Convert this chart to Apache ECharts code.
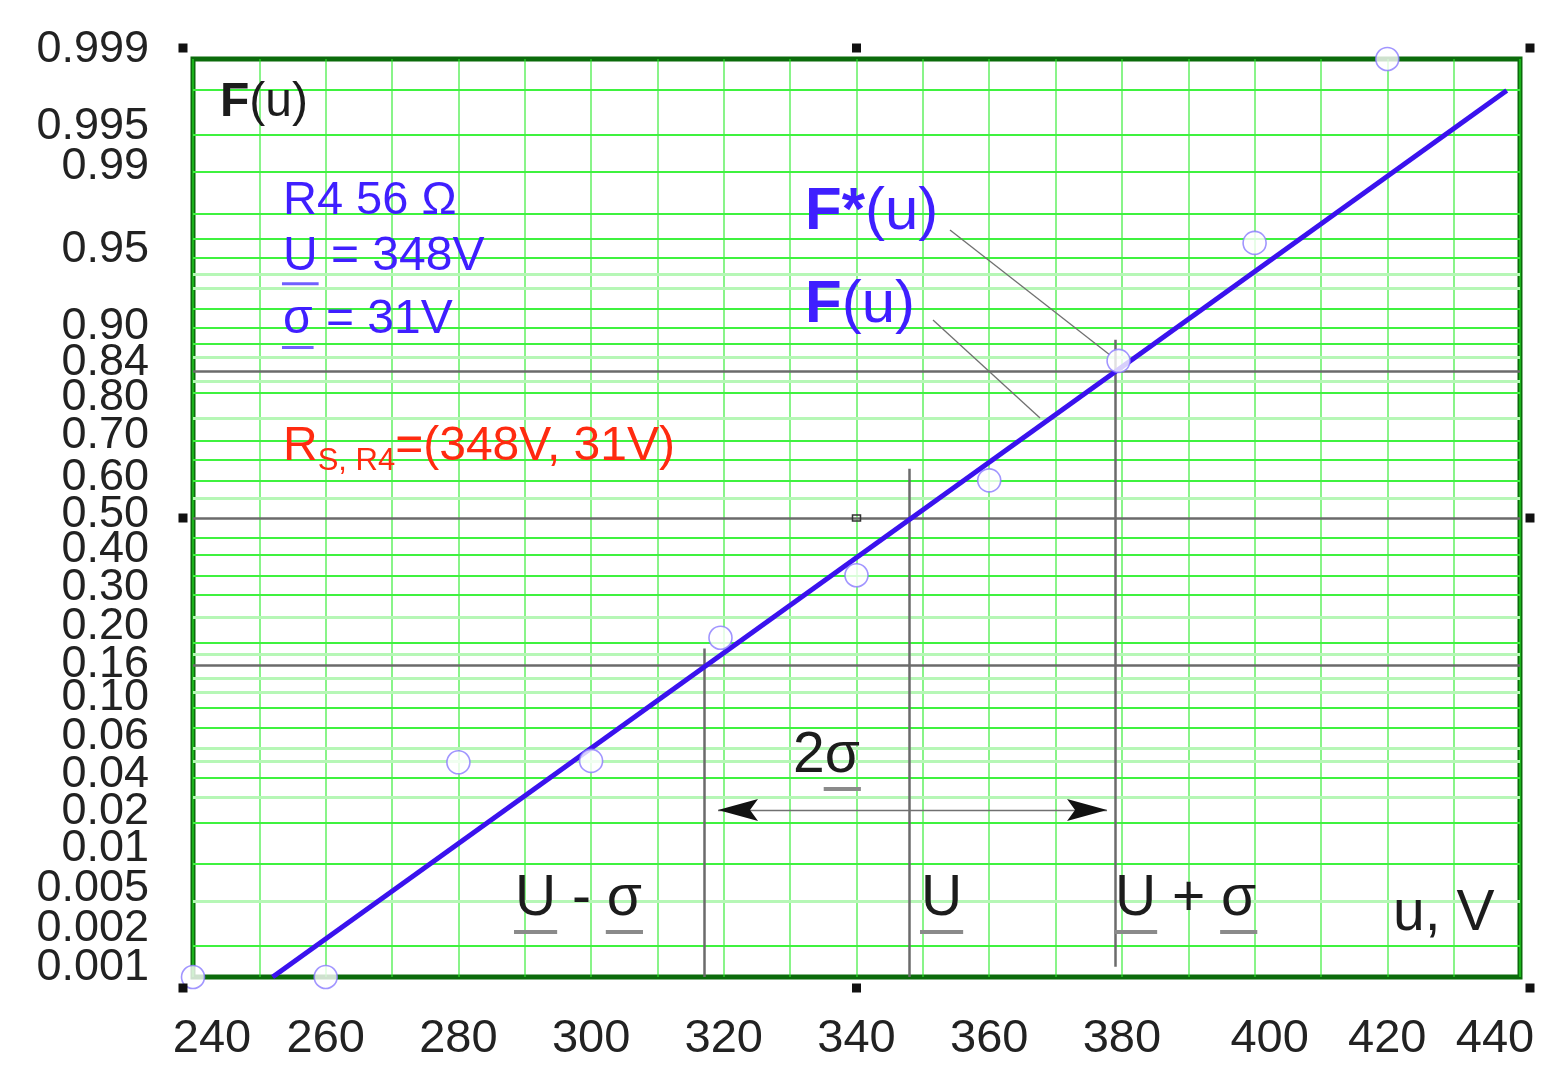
<!DOCTYPE html>
<html><head><meta charset="utf-8">
<script src="https://cdn.jsdelivr.net/npm/echarts@6/dist/echarts.min.js"></script>
<style>html,body{margin:0;padding:0;background:#fff}#c{width:1561px;height:1075px}</style>
</head><body><div id="c"></div>
<script>
// ---------- data ----------
const uValues = [240, 260, 280, 300, 319.5, 340, 360, 379.5, 400, 420];      // u, V
const fStar   = [0.001, 0.001, 0.050, 0.051, 0.21, 0.35, 0.60, 0.855, 0.968, 0.999]; // F*(u)
const fitU = [252, 438];
const fitF = [0.001, 0.998];                 // F(u) fitted normal line
const U_MEAN = 348, SIGMA = 31;
const xTickLabels = [240, 260, 280, 300, 320, 340, 360, 380, 400, 420, 440];
const yTickLabels = ['0.999','0.995','0.99','0.95','0.90','0.84','0.80','0.70','0.60','0.50','0.40','0.30','0.20','0.16','0.10','0.06','0.04','0.02','0.01','0.005','0.002','0.001'];
const gridMajorP = [0.998,0.995,0.99,0.98,0.97,0.96,0.92,0.90,0.88,0.80,0.70,0.65,0.60,0.45,0.40,0.35,0.30,0.20,0.10,0.08,0.04,0.02,0.01,0.002];
const gridMinorP = [0.95,0.94,0.86,0.82,0.75,0.55,0.25,0.18,0.14,0.12,0.06,0.05,0.03,0.005];
const refP = [0.84, 0.50, 0.16];

// ---------- probability (probit) scale ----------
function probit(p){
  const a=[-3.969683028665376e+01,2.209460984245205e+02,-2.759285104469687e+02,1.383577518672690e+02,-3.066479806614716e+01,2.506628277459239e+00];
  const b=[-5.447609879822406e+01,1.615858368580409e+02,-1.556989798598866e+02,6.680131188771972e+01,-1.328068155288572e+01];
  const c=[-7.784894002430293e-03,-3.223964580411365e-01,-2.400758277161838e+00,-2.549732539343734e+00,4.374664141464968e+00,2.938163982698783e+00];
  const d=[7.784695709041462e-03,3.224671290700398e-01,2.445134137142996e+00,3.754408661907416e+00];
  const pl=0.02425; let q,r;
  if(p<pl){q=Math.sqrt(-2*Math.log(p));return (((((c[0]*q+c[1])*q+c[2])*q+c[3])*q+c[4])*q+c[5])/((((d[0]*q+d[1])*q+d[2])*q+d[3])*q+1);}
  if(p>1-pl){q=Math.sqrt(-2*Math.log(1-p));return -(((((c[0]*q+c[1])*q+c[2])*q+c[3])*q+c[4])*q+c[5])/((((d[0]*q+d[1])*q+d[2])*q+d[3])*q+1);}
  q=p-0.5;r=q*q;return (((((a[0]*r+a[1])*r+a[2])*r+a[3])*r+a[4])*r+a[5])*q/(((((b[0]*r+b[1])*r+b[2])*r+b[3])*r+b[4])*r+1);
}
const EPS = 1e-7;
const yMin = probit(0.001) - EPS, yMax = probit(0.999) + EPS;
const xMin = 240, xMax = 440;
const yTickZ = yTickLabels.map(s => probit(parseFloat(s)));
// order the custom label values so that the first/last pair never trigger min/max-label overlap hiding
const orderIdx = (function(){
  const n = yTickLabels.length, mid = Math.floor(n/2);
  const rest = [];
  for (let i=1;i<n-1;i++) if (i!==mid) rest.push(i);
  return [n-1, mid].concat(rest.filter(i=>i!==1)).concat([1, 0]).filter((v,k,a)=>a.indexOf(v)===k);
})();
// make sure second-last is far from the last (0.999): put a middle label there
const yCustom = (function(){
  const idx = orderIdx.slice();
  const last = idx.pop();            // 0.999
  const prev = idx.pop();            // 0.995
  idx.splice(2, 0, prev);            // move 0.995 inside
  const far = idx.splice(idx.indexOf(14),1)[0]; // 0.10
  idx.push(far, last);
  return idx.map(i=>yTickZ[i]);
})();

const FONT = 'Liberation Sans';
const BLACK = '#1c1c1c', BLUE = '#3f1fff', RED = '#ff2a10';
const BLUE_UL = '#6f60ff', GRAY_UL = '#8a8a8a';

// label placement nudges (px, negative = up / left) to mimic the hand-set probability paper labels
const yLabelNudge = [-9,-9,-6,-24,-1,-8,5,-5,-3,-3,-6,-8,-16,-1,-11,-12,-3,-11,-15,-12,-17,-9];
const xLabelNudge = {240:19, 400:15, 440:-25};
const Y_FS = 45, X_FS = 47;

const yRich = {};
yTickLabels.forEach((s,i)=>{
  const o = yLabelNudge[i];
  yRich['n'+i] = {fontSize:Y_FS, fontFamily:FONT, color:'#222',
    padding: o<0 ? [0,0,-2*o,0] : [2*o,0,0,0]};
});
const xRich = {};
xTickLabels.forEach(v=>{
  const o = xLabelNudge[v]||0;
  xRich['x'+v] = {fontSize:X_FS, fontFamily:FONT, color:'#222',
    padding: o>0 ? [0,0,0,2*o] : [0,-2*o,0,0]};
});

const chart = echarts.init(document.getElementById('c'), null, {renderer:'canvas'});

const hLines = (ps) => ps.map(p => ({yAxis: probit(p)}));
const seg = (u1,z1,u2,z2) => [{coord:[u1,z1]},{coord:[u2,z2]}];

const option = {
  animation: false,
  backgroundColor: '#ffffff',
  grid: {left:193, right:41, top:59, bottom:98, show:true, borderColor:'#0b6b0b', borderWidth:5,
         backgroundColor:'#ffffff', containLabel:false, outerBoundsMode:'none'},
  xAxis: {
    type:'value', min:xMin, max:xMax, interval:10,
    axisLine:{show:false}, axisTick:{show:false},
    axisLabel:{customValues:xTickLabels, fontSize:X_FS, color:'#222', fontFamily:FONT, margin:39, hideOverlap:false,
      showMinLabel:true, showMaxLabel:true,
      formatter:(v)=>'{x'+Math.round(v)+'|'+Math.round(v)+'}', rich:xRich},
    splitLine:{show:true, lineStyle:{color:'rgba(40,235,40,0.55)', width:2}}
  },
  yAxis: {
    type:'value', min:yMin, max:yMax,
    axisLine:{show:false}, axisTick:{show:false}, splitLine:{show:false},
    axisLabel:{
      customValues:yCustom, fontSize:Y_FS, color:'#222', fontFamily:FONT, margin:44, hideOverlap:false,
      showMinLabel:true, showMaxLabel:true,
      formatter:(v)=>{let bi=0,bd=1e9;yTickZ.forEach((z,i)=>{const dd=Math.abs(z-v);if(dd<bd){bd=dd;bi=i;}});return '{n'+bi+'|'+yTickLabels[bi]+'}';},
      rich:yRich
    }
  },
  series: [
    {name:'grid-minor', type:'line', data:[], silent:true, z:1,
     markLine:{silent:true, symbol:['none','none'], label:{show:false},
       lineStyle:{color:'#b6f7b6', width:3, type:'solid'}, data:hLines(gridMinorP)}},
    {name:'grid-major', type:'line', data:[], silent:true, z:1,
     markLine:{silent:true, symbol:['none','none'], label:{show:false},
       lineStyle:{color:'#3ff23f', width:2, type:'solid'}, data:hLines(gridMajorP)}},
    {name:'reference', type:'line', data:[], silent:true, z:2,
     markLine:{silent:true, symbol:['none','none'], label:{show:false},
       lineStyle:{color:'#6b6b6b', width:2.5, type:'solid'},
       data: hLines(refP).concat([
         seg(U_MEAN-SIGMA, probit(0.19), U_MEAN-SIGMA, yMin),
         seg(U_MEAN, probit(0.63), U_MEAN, yMin),
         seg(U_MEAN+SIGMA, probit(0.885), U_MEAN+SIGMA, probit(0.00126))
       ])}},
    {name:'leaders', type:'line', data:[], silent:true, z:2,
     markLine:{silent:true, symbol:['none','none'], label:{show:false},
       lineStyle:{color:'#707070', width:1.3, type:'solid'},
       data:[ seg(354.09,1.939,378.2,1.098), seg(351.53,1.333,367.66,0.673), seg(319.13,-1.966,377.76,-1.966) ]}},
    {name:'F(u)', type:'line', z:5, symbol:'none', silent:true,
     data: fitU.map((u,i)=>[u, probit(fitF[i])]),
     lineStyle:{color:'#3a12ee', width:5}},
    {name:'F*(u)', type:'scatter', z:10, clip:false, symbol:'circle', symbolSize:23,
     data: uValues.map((u,i)=>[u, probit(fStar[i])]),
     itemStyle:{color:'#ffffff', borderColor:'#8a7bff', borderWidth:1.6}}
  ]
};
chart.setOption(option);

// ---------- annotations ----------
const ctx = document.createElement('canvas').getContext('2d');
function tw(str, size, weight){ ctx.font = (weight||'normal')+' '+size+'px "'+FONT+'"'; return ctx.measureText(str).width; }
const P = (u,z) => chart.convertToPixel({gridIndex:0}, [u,z]);

const notes = [
 {u:244.07, z:2.798, parts:[{t:'F',s:48,w:'bold',c:BLACK},{t:'(u)',s:48,c:BLACK}]},
 {u:253.56, z:2.131, parts:[{t:'R4 56 Ω',s:47,c:BLUE}]},
 {u:253.56, z:1.761, parts:[{t:'U',s:48,c:BLUE,ul:BLUE_UL},{t:' = 348V',s:48,c:BLUE}]},
 {u:253.56, z:1.333, parts:[{t:'σ',s:48,c:BLUE,ul:BLUE_UL},{t:' = 31V',s:48,c:BLUE}]},
 {u:253.56, z:0.478, parts:[{t:'R',s:48,c:RED},{t:'S, R4',s:31,c:RED,dy:14},{t:'=(348V, 31V)',s:48,c:RED}]},
 {u:332.24, z:2.054, parts:[{t:'F*',s:60,w:'bold',c:BLUE},{t:'(u)',s:60,c:BLUE}]},
 {u:332.24, z:1.434, parts:[{t:'F',s:60,w:'bold',c:BLUE},{t:'(u)',s:60,c:BLUE}]},
 {u:330.43, z:-1.603, parts:[{t:'2',s:57,c:BLACK},{t:'σ',s:57,c:BLACK,ul:GRAY_UL}]},
 {u:288.53, z:-2.566, parts:[{t:'U',s:57,c:BLACK,ul:GRAY_UL},{t:' - ',s:57,c:BLACK},{t:'σ',s:57,c:BLACK,ul:GRAY_UL}]},
 {u:349.72, z:-2.566, parts:[{t:'U',s:57,c:BLACK,ul:GRAY_UL}]},
 {u:378.96, z:-2.566, parts:[{t:'U',s:57,c:BLACK,ul:GRAY_UL},{t:' + ',s:57,c:BLACK},{t:'σ',s:57,c:BLACK,ul:GRAY_UL}]},
 {u:420.86, z:-2.667, parts:[{t:'u, V',s:57,c:BLACK}]}
];

const els = [];
notes.forEach(n=>{
  const [x0,y0] = P(n.u,n.z); let x=x0;
  n.parts.forEach(pt=>{
    const w = tw(pt.t, pt.s, pt.w);
    els.push({type:'text', x:x, y:y0+(pt.dy||0), z:100, silent:true,
      style:{text:pt.t, fill:pt.c, fontSize:pt.s, fontFamily:FONT, fontWeight:pt.w||'normal', align:'left', verticalAlign:'middle'}});
    if(pt.ul){
      const th = pt.s>52?4:3;
      els.push({type:'rect', z:100, silent:true, shape:{x:x-1, y:y0+0.54*pt.s, width:w+2, height:th}, style:{fill:pt.ul}});
    }
    x += w;
  });
});

// arrow heads of the 2σ dimension line
(function(){
  const [xl,ya] = P(319.13,-1.966); const [xr] = P(377.76,-1.966);
  els.push({type:'polygon', z:100, silent:true, shape:{points:[[xl,ya],[xl+40,ya-11],[xl+32,ya],[xl+40,ya+11]]}, style:{fill:'#111'}});
  els.push({type:'polygon', z:100, silent:true, shape:{points:[[xr,ya],[xr-40,ya-11],[xr-32,ya],[xr-40,ya+11]]}, style:{fill:'#111'}});
})();

// registration marks around the frame
(function(){
  const [l,t] = P(xMin,yMax); const [r,b] = P(xMax,yMin);
  const [mx,my] = P(340,0);
  const pts = [[l-10,t-11],[mx,t-11],[r+10,t-11],[l-10,my],[r+10,my],[l-10,b+11],[mx,b+11],[r+10,b+11]];
  pts.forEach(([x,y])=>els.push({type:'rect', z:100, silent:true, shape:{x:x-4.5,y:y-4.5,width:9,height:9}, style:{fill:'#111'}}));
  els.push({type:'rect', z:100, silent:true, shape:{x:mx-4,y:my-3,width:8,height:6}, style:{fill:'none', stroke:'#333', lineWidth:1.5}});
})();

chart.setOption({graphic: els});
</script></body></html>
